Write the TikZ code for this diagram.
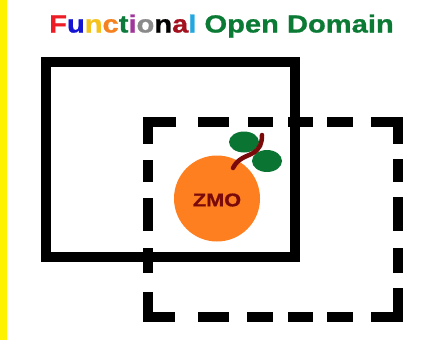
\documentclass[tikz,border=0pt]{standalone}
\usepackage{fontspec}
\setmainfont{Liberation Sans}
\newfontfamily\widebold[FakeStretch=1.174,FakeBold=0.9]{Liberation Sans Bold}
\definecolor{tgreen}{HTML}{0A7A35}
\definecolor{leafgreen}{HTML}{0A7433}
\definecolor{orangefruit}{HTML}{FD7F20}
\definecolor{stemred}{HTML}{7A0A0A}
\tikzset{
  solidframe/.style={draw=black,line width=10bp,miter limit=10},
  dashseg/.style={draw=black,line width=10bp,line cap=butt,line join=miter},
  leaf/.style={fill=leafgreen,draw=none},
  titletext/.style={inner sep=0pt,anchor=base,font=\fontsize{24.8bp}{26bp}\widebold},
}
\begin{document}
\begin{tikzpicture}[x=1bp,y=-1bp]
\useasboundingbox (0,0) rectangle (433,340);
\fill[white] (0,0) rectangle (433,340);
\fill[yellow] (0,0) rectangle (7,340);
\node[titletext] (title) at (221.5,32.5) {\textcolor[HTML]{EE1C25}{F}\textcolor[HTML]{1414D2}{u}\textcolor[HTML]{F5C21B}{n}\textcolor[HTML]{F58220}{c}\textcolor[HTML]{0B7A3B}{t}\textcolor[HTML]{A0359B}{i}\textcolor[HTML]{8A8A8A}{o}\textcolor{black}{n}\textcolor[HTML]{A3101E}{a}\textcolor[HTML]{22A7E0}{l} \textcolor{tgreen}{Open Domain}};
% solid frame
\draw[solidframe] (46,62) rectangle (295,257);
% dashed frame, top
\draw[dashseg] (176,122) -- (148,122) -- (148,144);
\draw[dashseg] (198,122) -- (229,122);
\draw[dashseg] (248,122) -- (273,122);
\draw[dashseg] (288,122) -- (313,122);
\draw[dashseg] (327,122) -- (353,122);
\draw[dashseg] (371,122) -- (398,122) -- (398,144);
% left
\draw[dashseg] (148,160) -- (148,182);
\draw[dashseg] (148,198) -- (148,231);
\draw[dashseg] (148,248) -- (148,273);
% right
\draw[dashseg] (398,159) -- (398,182);
\draw[dashseg] (398,197) -- (398,231);
\draw[dashseg] (398,248) -- (398,273);
% bottom
\draw[dashseg] (148,292) -- (148,317) -- (175,317);
\draw[dashseg] (198,317) -- (229,317);
\draw[dashseg] (247,317) -- (273,317);
\draw[dashseg] (288,317) -- (313,317);
\draw[dashseg] (327,317) -- (353,317);
\draw[dashseg] (371,317) -- (398,317) -- (398,288);
% fruit
\fill[orangefruit] (217,198.5) circle[radius=43];
\fill[leaf] (244,142) ellipse[x radius=15,y radius=10.5];
\fill[leaf] (267,161) ellipse[x radius=15,y radius=11];
\draw[stemred,line width=4.5bp,line cap=round] (233,168) .. controls (238,158) and (246,157) .. (253,153) .. controls (260,149) and (262,143) .. (262,135);
\node[inner sep=0pt,text=stemred,font=\fontsize{18.5bp}{20bp}\widebold] (zmo) at (217,200) {ZMO};
\end{tikzpicture}
\end{document}
